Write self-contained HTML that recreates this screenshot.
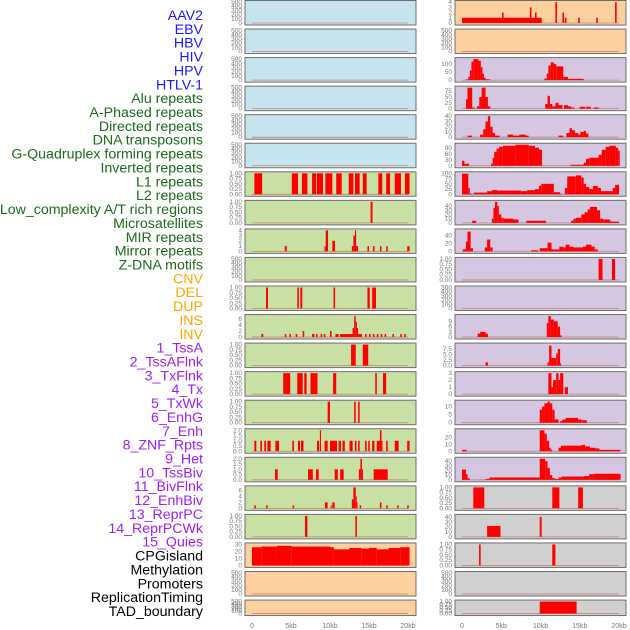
<!DOCTYPE html>
<html><head><meta charset="utf-8">
<style>
body{margin:0;background:#fff;width:630px;height:630px;overflow:hidden}
svg{display:block;font-family:"Liberation Sans",sans-serif}
.lab{font-size:14.2px;text-anchor:end}
.tk{font-size:6.5px;fill:#777;text-anchor:end}
.xt{font-size:7px;fill:#777;text-anchor:middle}
</style></head>
<body>
<svg id="chart" width="630" height="630"></svg>
<script>
const labels=["AAV2","EBV","HBV","HIV","HPV","HTLV-1","Alu repeats","A-Phased repeats","Directed repeats","DNA transposons","G-Quadruplex forming repeats","Inverted repeats","L1 repeats","L2 repeats","Low_complexity A/T rich regions","Microsatellites","MIR repeats","Mirror repeats","Z-DNA motifs","CNV","DEL","DUP","INS","INV","1_TssA","2_TssAFlnk","3_TxFlnk","4_Tx","5_TxWk","6_EnhG","7_Enh","8_ZNF_Rpts","9_Het","10_TssBiv","11_BivFlnk","12_EnhBiv","13_ReprPC","14_ReprPCWk","15_Quies","CPGisland","Methylation","Promoters","ReplicationTiming","TAD_boundary"];
const labelColors=["#1a1aff","#1a1aff","#1a1aff","#1a1aff","#1a1aff","#1a1aff","#1a6b1a","#1a6b1a","#1a6b1a","#1a6b1a","#1a6b1a","#1a6b1a","#1a6b1a","#1a6b1a","#1a6b1a","#1a6b1a","#1a6b1a","#1a6b1a","#1a6b1a","#ffa500","#ffa500","#ffa500","#ffa500","#ffa500","#a020f0","#a020f0","#a020f0","#a020f0","#a020f0","#a020f0","#a020f0","#a020f0","#a020f0","#a020f0","#a020f0","#a020f0","#a020f0","#a020f0","#a020f0","#000","#000","#000","#000","#000"];
const xTicks=[0,5,10,15,20];
const xTickLabels=["0","5kb","10kb","15kb","20kb"];
const leftBg=["#c6e4ed","#c6e4ed","#c6e4ed","#c6e4ed","#c6e4ed","#c6e4ed","#c8e0a4","#c8e0a4","#c8e0a4","#c8e0a4","#c8e0a4","#c8e0a4","#c8e0a4","#c8e0a4","#c8e0a4","#c8e0a4","#c8e0a4","#c8e0a4","#c8e0a4","#fdd09f","#fdd09f","#fdd09f"];
const rightBg=["#fdd09f","#fdd09f","#d5c6e2","#d5c6e2","#d5c6e2","#d5c6e2","#d5c6e2","#d5c6e2","#d5c6e2","#d5c6e2","#d5c6e2","#d5c6e2","#d5c6e2","#d5c6e2","#d5c6e2","#d5c6e2","#d5c6e2","#d0d0d0","#d0d0d0","#d0d0d0","#d0d0d0","#d0d0d0"];
const T500=[0,100,200,300,400,500], T1=[0,0.25,0.5,0.75,1], T2=[0,0.5,1,1.5,2];
const leftYmax=[500,500,500,500,500,500,1,1,4,500,1,7,1,1,1,2,2,7,1,30,500,500];
const leftTicks=[T500,T500,T500,T500,T500,T500,T1,T1,[0,1,2,3,4],T500,T1,[0,2,4,6],T1,T1,T1,T2,T2,[0,2,4,6],T1,[0,10,20,30],T500,T500];
const rightYmax=[4,500,130,90,40,105,100,50,53,1,500,12,9.5,3,13,30,45,1,42,1,500,1];
const rightTicks=[[0,1,2,3,4],T500,[0,50,100],[0,25,50,75],[0,10,20,30,40],[0,30,60,90],[0,25,50,75,100],[0,10,20,30,40],[0,20,40],T1,T500,[0,3,6,9],[0,2.5,5,7.5],[0,1,2,3],[0,5,10],[0,10,20],[0,10,20,30,40],T1,[0,10,20,30,40],T1,T500,T1];
const leftData=[[],[],[],[],[],[],
[[0.3,1.3,1],[5.1,5.9,1],[6.4,7.1,1],[7.7,8.2,1],[8.3,9.1,1],[9.4,10.3,1],[10.8,11.5,1],[12.4,13.0,1],[13.2,13.8,1],[14.2,14.7,1],[16.2,16.7,1],[17.2,17.7,1],[18.3,19.1,1],[19.6,20.2,1]],
[[15.2,15.45,1]],
[[4.2,4.45,1],[9.3,9.45,1],[9.45,9.75,4],[10.3,10.65,2],[12.8,13.0,1],[13.0,13.2,3],[13.2,13.35,4],[13.35,13.6,1],[14.8,15.0,1],[15.5,15.7,1],[16.4,16.6,1],[17.2,17.4,1],[19.9,20.2,1]],
[],
[[1.8,2.05,1],[5.8,6.0,1],[6.2,6.45,1],[10.45,10.65,1],[14.8,15.1,1],[15.4,15.9,1]],
[[1.2,1.45,1],[4.2,4.4,1],[4.8,5.0,1],[5.6,5.8,1],[6.5,6.7,2],[7.7,8.0,1],[8.2,8.4,1],[8.8,9.0,1],[9.2,9.4,1],[10.0,10.2,2],[10.7,11.1,1],[11.3,12.9,1],[12.9,13.1,3],[13.1,13.3,7],[13.3,13.45,5],[13.45,13.6,3],[13.6,14.1,1],[14.5,14.7,1],[15.0,15.2,1],[15.5,15.7,1],[16.0,16.2,1],[16.5,16.7,1],[17.0,17.2,1],[18.0,18.2,1],[19.0,19.2,1],[19.5,19.7,1]],
[[12.7,13.3,1],[14.2,14.9,1]],
[[4.0,4.9,1],[5.8,6.5,1],[6.7,7.0,1],[7.5,8.4,1],[10.4,10.8,1],[15.8,16.0,1],[16.8,17.2,1]],
[[9.7,10.0,1],[13.1,13.3,1],[13.6,13.8,1]],
[[0.3,0.55,1],[1.07,1.28,1],[1.58,1.8,1],[1.97,2.4,1],[3.0,3.46,1],[5.17,5.38,1],[5.9,6.15,1],[6.28,6.6,1],[8.33,8.6,1],[8.7,8.85,2],[9.3,9.7,1],[10.0,10.9,1],[11.1,11.4,1],[11.6,11.9,1],[12.5,12.9,1],[13.2,13.4,1],[13.6,13.8,1],[14.5,14.7,1],[14.9,15.1,1],[15.4,15.7,1],[16.0,16.4,1],[16.4,16.6,2],[16.6,16.7,1],[17.2,17.4,1],[18.3,18.8,1],[19.9,20.2,1]],
[[2.95,3.3,1],[7.18,7.8,1],[8.2,8.55,1],[10.6,11.0,1],[11.3,11.75,1],[13.7,13.9,1],[13.9,14.1,2],[14.1,14.2,1],[15.6,17.4,1]],
[[0.3,0.5,1],[1.8,2.0,1],[5.2,5.4,1],[9.35,9.7,2],[10.1,10.2,1],[10.3,10.6,2],[12.8,13.0,3],[13.0,13.3,7],[13.3,13.4,4],[13.4,13.5,2],[13.8,14.0,1],[16.4,16.6,2],[17.2,17.4,1],[18.6,18.8,1],[19.9,20.1,1]],
[[6.8,7.1,1],[13.25,13.45,1]],
[[0,1.2,26],[1.2,3.2,27],[3.2,5.1,28],[5.1,10,27],[10,10.5,26],[10.5,12.5,23],[12.5,14,25],[14,15,24],[15,16,25],[16,17.5,23],[17.5,19,25],[19,20.2,26]],
[],[]];
const rightData=[
[[0,10.15,1],[5.1,5.3,2],[8.65,8.85,3],[9.3,9.5,2],[11.9,12.1,4],[12.8,13.0,2],[13.1,13.3,1],[14.8,15.0,1],[17.1,17.3,1],[19.5,19.7,4]],
[],
[[0.5,0.8,5],[0.8,1.0,20],[1.0,1.2,60],[1.2,1.45,115],[1.45,2.1,130],[2.1,2.4,120],[2.4,2.6,80],[2.6,2.8,40],[2.8,3.0,15],[3.0,3.6,5],[10.5,10.8,10],[10.8,11.0,40],[11.0,11.3,90],[11.3,11.7,110],[11.7,12.0,100],[12.0,12.9,85],[12.9,13.5,20],[13.5,15.5,8]],
[[0.5,0.7,40],[0.7,1.3,90],[1.3,1.6,5],[1.9,2.2,10],[2.2,2.5,50],[2.5,3.0,90],[3.0,3.3,50],[3.3,3.6,10],[10.6,10.9,20],[10.9,11.2,55],[11.2,11.5,20],[11.5,11.9,10],[11.9,12.3,25],[12.3,12.8,15],[13.0,13.5,15],[13.5,13.9,10],[13.9,14.3,5],[15.0,15.7,8],[15.8,16.4,8],[16.8,17.4,5]],
[[0.7,1.3,3],[2.3,2.7,5],[2.7,3.0,15],[3.0,3.3,30],[3.3,3.6,40],[3.6,3.9,20],[3.9,4.2,8],[4.2,4.8,3],[5.8,6.5,5],[6.5,7.3,3],[7.3,8.1,5],[8.1,8.5,3],[12.3,12.9,3],[13.3,13.7,8],[13.7,14.0,17],[14.0,14.4,13],[14.4,14.8,8],[14.8,15.1,5],[15.1,15.5,10],[15.5,15.8,12],[15.8,16.1,7]],
[[0.0,0.3,25],[0.3,0.9,10],[3.7,3.9,10],[3.9,4.1,40],[4.1,4.4,70],[4.4,4.7,85],[4.7,5.2,95],[5.2,6.8,100],[6.8,8.5,105],[8.5,9.3,100],[9.3,9.8,90],[9.8,10.2,80],[13.8,15.5,5],[15.5,15.8,15],[15.8,16.2,35],[16.2,17.4,40],[17.4,17.8,55],[17.8,18.3,80],[18.3,18.8,95],[18.8,19.6,100],[19.6,19.9,90],[19.9,20.1,75]],
[[0,0.8,98],[0.8,1.0,30],[1.0,1.3,3],[1.5,3.2,8],[3.2,3.8,15],[3.8,4.5,20],[4.5,7.5,18],[7.5,8.3,15],[8.3,9.3,20],[9.3,9.8,25],[9.8,10.1,40],[10.1,11.7,50],[11.7,12.5,10],[12.5,12.7,3],[13.1,13.4,30],[13.4,14.5,85],[14.5,15.2,90],[15.2,15.5,80],[15.5,15.8,50],[15.8,16.2,35],[16.2,16.7,25],[16.7,17.3,40],[17.3,17.7,30],[17.7,19.2,15],[19.2,19.5,30],[19.5,20.0,45]],
[[1.3,1.8,5],[3.8,4.0,10],[4.0,4.2,35],[4.2,4.5,50],[4.5,4.7,40],[4.7,5.0,20],[5.0,5.3,12],[5.3,6.5,10],[6.5,7.2,8],[8.2,10.4,5],[10.4,10.7,5],[13.9,14.2,5],[14.2,14.5,10],[14.5,15.2,12],[15.2,15.6,20],[15.6,16.0,25],[16.0,16.3,32],[16.3,17.2,38],[17.2,17.6,30],[17.6,18.0,10],[18.0,18.9,8],[18.9,20.0,3]],
[[0.1,0.5,5],[0.5,0.7,25],[0.7,1.1,50],[1.1,1.4,8],[2.9,3.2,10],[3.2,3.6,30],[3.6,3.9,10],[8.8,9.7,3],[9.9,10.9,8],[10.9,11.4,22],[11.4,12.4,5],[12.4,12.9,12],[12.9,13.2,10],[13.2,13.7,17],[13.7,14.2,12],[14.2,15.4,10],[15.4,15.8,12],[15.8,16.5,17],[16.5,16.9,12],[16.9,17.3,5]],
[[17.4,17.9,1],[19.1,19.5,1]],
[],
[[2.0,2.3,2],[2.3,3.0,3],[3.0,3.3,2],[10.8,11.0,8],[11.0,11.3,12],[11.3,11.7,10],[11.7,12.2,9],[12.2,12.5,6],[12.5,12.7,1]],
[[3.0,3.3,1.5],[10.9,11.1,1.5],[11.1,11.4,9],[11.4,11.6,3.5],[11.6,12.0,3.5],[12.0,12.2,5.5],[12.2,12.5,7.5],[12.5,12.6,1]],
[[11.0,11.4,3],[11.4,11.6,1],[11.6,12.0,2],[12.0,12.3,3],[12.3,12.5,2],[12.5,12.9,3],[13.1,13.5,1]],
[[9.9,10.2,8],[10.2,10.5,10],[10.5,10.9,12],[10.9,11.2,13],[11.2,11.5,12],[11.5,11.8,8],[11.8,12.3,2],[12.5,12.8,1],[12.8,13.2,2],[13.2,14.8,3],[14.8,15.2,2],[15.2,15.9,1.5]],
[[0,0.6,2],[9.9,10.5,30],[10.5,10.8,25],[10.8,11.1,15],[11.1,11.3,5],[11.3,11.5,2],[12.3,12.6,5],[12.6,15.2,8],[15.2,15.7,9],[15.7,16.3,7],[16.3,17.0,5],[17.0,17.5,4],[17.5,20.2,2]],
[[0,0.5,22],[0.5,0.7,12],[0.7,1.0,3],[3.0,3.5,2],[3.5,4.0,5],[4.0,9.9,5],[9.9,10.6,45],[10.6,10.9,40],[10.9,11.2,25],[11.2,11.5,10],[11.5,11.8,4],[11.8,12.3,2],[12.3,12.7,5],[12.7,15.5,7],[15.5,16.2,8],[16.2,16.8,12],[16.8,20.2,13]],
[[1.44,2.84,1],[11.5,12.4,1],[14.8,15.4,1]],
[[3.2,4.9,22],[9.9,10.15,40]],
[[2.17,2.38,1],[11.5,11.9,1]],
[],
[[9.9,14.6,1]]];

const NS="http://www.w3.org/2000/svg";
const svg=document.getElementById('chart');
function mk(tag,attrs,parent){const e=document.createElementNS(NS,tag);for(const k in attrs)e.setAttribute(k,attrs[k]);(parent||svg).appendChild(e);return e;}
labels.forEach((t,i)=>{
  const e=mk('text',{x:203,y:15+i*13.86+5,class:'lab',fill:labelColors[i]});
  e.textContent=t;
  
  
});
function fmt(v,ticks){const mx=Math.max(...ticks);if(mx===1)return v.toFixed(2);if(ticks.some(t=>t%1!==0))return v.toFixed(1);return String(v);}
function panel(col,i,bg,ymax,ticks,data){
  const fx=col===0?245:455, fw=171;
  const x0=col===0?252:462, x1=col===0?408:619;
  const top=0.5+i*28.55, h=i===21?15.5:24.5;
  const g=mk('g',{});
  
  
  mk('rect',{x:fx,y:top,width:fw,height:h,fill:bg,stroke:'#6e6e6e','stroke-width':1},g);
  const yb=top+h-2, yt=top+1.5;
  const sy=v=>yb-(v/ymax)*(yb-yt);
  const sx=k=>x0+(k/20)*(x1-x0);
  mk('line',{x1:x0,x2:x1,y1:yb,y2:yb,stroke:'#c0605a','stroke-width':0.8,opacity:0.7},g);
  data.forEach(d=>{
    const r=mk('rect',{x:sx(d[0]),y:sy(d[2]),width:Math.max(1,sx(d[1])-sx(d[0])),height:yb-sy(d[2]),fill:'#ff0000'},g);
    
    
  });
  ticks.forEach(t=>{
    const e=mk('text',{x:fx-3,y:sy(t)+2,class:'tk'},g);
    e.textContent=fmt(t,ticks);
    
    
  });
}
for(let i=0;i<22;i++){
  panel(0,i,leftBg[i],leftYmax[i],leftTicks[i],leftData[i]);
  panel(1,i,rightBg[i],rightYmax[i],rightTicks[i],rightData[i]);
}
[0,1].forEach(col=>{
  const x0=col===0?252:462, x1=col===0?408:619;
  xTicks.forEach((k,j)=>{
    const e=mk('text',{x:x0+(k/20)*(x1-x0),y:628,class:'xt'});
    e.textContent=xTickLabels[j];
    
    
  });
});
</script>
</body></html>
